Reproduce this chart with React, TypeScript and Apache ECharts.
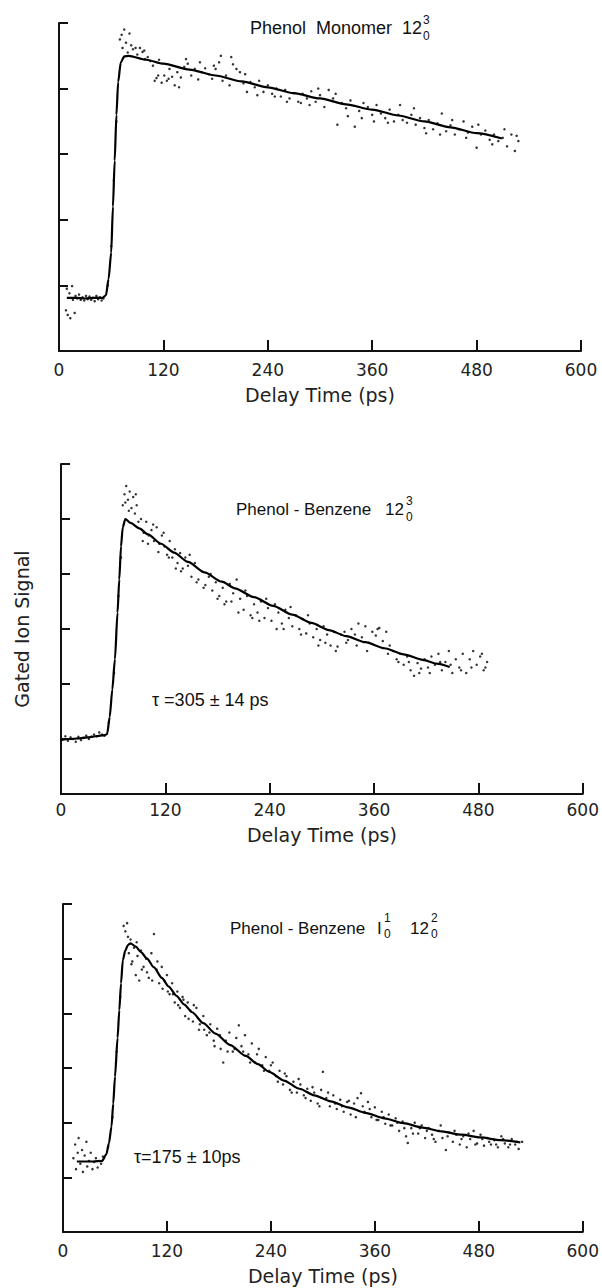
import React, { useEffect, useRef } from "react";
import * as echarts from "echarts";

// ---------- data ----------
const xTicks = [0, 120, 240, 360, 480, 600];
const xAxisName = "Delay Time (ps)";
const yAxisName = "Gated Ion Signal";

// Panel 1: Phenol Monomer 12_0^3 (fit line and measured points)
const fit1: [number, number][] = [
  [9, 0.81], [20, 0.81], [30, 0.8], [40, 0.81], [50, 0.81], [54, 0.85], [57, 1.1], [60, 1.5], [62, 2.2], [64, 2.9],
  [66, 3.6], [68, 4.1], [71, 4.4], [75, 4.49], [80, 4.5], [100, 4.44], [120, 4.38], [150, 4.29], [180, 4.2],
  [210, 4.11], [240, 4.02], [270, 3.93], [300, 3.85], [330, 3.76], [360, 3.68], [390, 3.59], [420, 3.5],
  [450, 3.41], [480, 3.32], [509, 3.24],
];
const pts1: [number, number][] = [
  [8, 0.62], [9, 0.95], [10, 0.55], [12, 0.88], [13, 0.5], [15, 0.99], [16, 0.78], [18, 0.58], [19, 0.84], [21, 0.8],
  [23, 0.86], [25, 0.78], [27, 0.82], [29, 0.77], [31, 0.84], [33, 0.79], [35, 0.83], [37, 0.78], [39, 0.81], [41, 0.76],
  [43, 0.84], [45, 0.79], [47, 0.82], [49, 0.77], [51, 0.8], [56, 1.0], [60, 1.6], [63, 2.6], [66, 3.5],
  [70, 4.75], [72, 4.82], [73, 4.62], [75, 4.9], [77, 4.7], [79, 4.55], [81, 4.84], [83, 4.66], [85, 4.6], [88, 4.62],
  [90, 4.52], [93, 4.62], [96, 4.56], [99, 4.45], [102, 4.48], [105, 4.42], [108, 4.35], [112, 4.16], [115, 4.44],
  [118, 4.09], [121, 4.2], [124, 4.12], [127, 4.3], [130, 4.18], [133, 4.05], [136, 4.25], [140, 4.17], [144, 4.33],
  [148, 4.38], [152, 4.2], [156, 4.3], [160, 4.14], [164, 4.25], [168, 4.31], [172, 4.22], [176, 4.15], [180, 4.3],
  [184, 4.4], [188, 4.12], [192, 4.2], [196, 4.05], [200, 4.37], [204, 4.3], [208, 4.25], [212, 4.08], [216, 3.95],
  [220, 4.1], [225, 4.02], [230, 4.12], [235, 3.95], [240, 4.05], [245, 3.92], [250, 4.0], [255, 3.88], [260, 3.98],
  [265, 3.85], [270, 3.93], [275, 3.8], [280, 3.92], [285, 3.85], [290, 3.96], [295, 3.8], [300, 3.9], [305, 3.72],
  [310, 3.98], [315, 3.85], [320, 3.45], [325, 3.78], [330, 3.7], [335, 3.82], [340, 3.42], [345, 3.66], [350, 3.78],
  [355, 3.72], [360, 3.6], [365, 3.75], [370, 3.62], [375, 3.55], [380, 3.68], [385, 3.5], [390, 3.6], [395, 3.52],
  [400, 3.48], [405, 3.6], [410, 3.45], [415, 3.55], [420, 3.4], [425, 3.52], [430, 3.38], [435, 3.47], [440, 3.62],
  [445, 3.35], [450, 3.44], [455, 3.3], [460, 3.38], [465, 3.5], [470, 3.33], [475, 3.42], [480, 3.1], [485, 3.3],
  [490, 3.36], [495, 3.22], [500, 3.3], [505, 3.2], [510, 3.25], [515, 3.12], [520, 3.3], [524, 3.05], [528, 3.2],
  [98, 4.58], [110, 4.12], [114, 4.2], [126, 4.15], [138, 4.02], [146, 4.45], [162, 4.4], [178, 4.35], [186, 4.5],
  [198, 4.48], [214, 4.22], [228, 3.9], [248, 3.88], [262, 3.8], [278, 3.78], [288, 3.75], [298, 4.0], [318, 3.92],
  [332, 3.58], [348, 3.55], [362, 3.5], [378, 3.48], [392, 3.75], [408, 3.7], [422, 3.32], [438, 3.3], [452, 3.52],
  [468, 3.25], [482, 3.45], [498, 3.15], [512, 3.38], [526, 3.28],
];

// Panel 2: Phenol-Benzene 12_0^3, tau = 305 ± 14 ps
const fit2: [number, number][] = [
  [0, 0.98], [10, 1.0], [20, 1.01], [30, 1.03], [40, 1.05], [50, 1.07], [53, 1.09], [56, 1.4], [59, 1.9], [62, 2.45],
  [65, 3.3], [67, 3.9], [69, 4.5], [71, 4.85], [74, 5.0], [80, 4.93], [90, 4.83], [100, 4.72], [115, 4.55],
  [130, 4.39], [146, 4.22], [165, 4.03], [185, 3.86], [200, 3.74], [222, 3.58], [244, 3.42], [266, 3.26],
  [288, 3.11], [308, 2.98], [328, 2.87], [350, 2.76], [372, 2.65], [394, 2.54], [416, 2.44], [432, 2.37], [447, 2.31],
];
const pts2: [number, number][] = [
  [2, 1.0], [5, 1.05], [8, 0.97], [11, 1.03], [14, 1.0], [17, 0.95], [20, 1.04], [23, 0.98], [26, 1.02], [29, 1.06],
  [32, 1.0], [35, 1.04], [38, 1.08], [41, 1.05], [44, 1.12], [47, 1.08], [50, 1.06], [55, 1.3], [61, 2.2], [66, 3.6],
  [69, 4.3], [71, 5.25], [73, 5.45], [75, 5.6], [77, 5.35], [79, 5.5], [81, 5.2], [83, 5.4], [85, 5.1], [87, 5.25],
  [89, 4.95], [92, 5.0], [95, 4.75], [98, 4.95], [101, 4.7], [104, 4.8], [107, 4.6], [110, 4.85], [113, 4.55],
  [116, 4.7], [119, 4.5], [122, 4.35], [125, 4.6], [128, 4.3], [131, 4.45], [134, 4.2], [137, 4.38], [140, 4.1],
  [143, 4.3], [146, 4.15], [150, 3.95], [154, 4.2], [158, 3.9], [162, 4.05], [166, 3.8], [170, 3.95], [174, 3.7],
  [178, 3.85], [182, 3.6], [186, 3.75], [190, 3.5], [194, 3.82], [198, 3.65], [202, 3.9], [206, 3.55], [210, 3.35],
  [214, 3.6], [218, 3.25], [222, 3.45], [226, 3.3], [230, 3.5], [234, 3.2], [238, 3.38], [242, 3.15], [246, 3.45],
  [250, 3.3], [254, 3.1], [258, 3.35], [262, 3.2], [266, 3.05], [270, 3.25], [274, 3.0], [278, 3.18], [282, 2.92],
  [286, 3.1], [290, 2.85], [294, 3.0], [298, 2.8], [302, 3.05], [306, 2.9], [310, 2.7], [314, 2.95], [318, 2.68],
  [322, 2.9], [326, 2.95], [330, 2.8], [334, 3.0], [338, 2.9], [342, 3.1], [346, 2.85], [350, 3.05], [354, 2.75],
  [358, 2.95], [362, 2.88], [366, 3.02], [370, 2.78], [374, 2.95], [378, 2.7], [382, 2.6], [386, 2.45], [390, 2.55],
  [394, 2.35], [398, 2.5], [402, 2.25], [406, 2.15], [410, 2.38], [414, 2.28], [418, 2.45], [422, 2.3], [426, 2.5],
  [430, 2.35], [434, 2.55], [438, 2.25], [442, 2.4], [446, 2.6], [450, 2.2], [454, 2.45], [458, 2.3], [462, 2.55],
  [466, 2.2], [470, 2.45], [474, 2.6], [478, 2.35], [482, 2.5], [486, 2.25], [490, 2.4],
  [74, 5.3], [78, 5.15], [86, 5.45], [94, 4.6], [100, 4.55], [106, 4.9], [112, 4.4], [118, 4.75], [124, 4.3],
  [132, 4.1], [138, 4.05], [148, 4.35], [156, 3.85], [164, 3.75], [172, 4.0], [180, 3.55], [188, 3.45], [196, 3.5],
  [204, 3.3], [212, 3.7], [220, 3.2], [228, 3.15], [236, 3.55], [248, 3.0], [256, 3.0], [264, 3.4], [276, 2.9],
  [284, 3.25], [296, 2.7], [304, 2.75], [316, 2.6], [328, 2.75], [340, 2.7], [352, 2.6], [364, 3.0], [376, 2.55],
  [388, 2.4], [400, 2.4], [412, 2.2], [424, 2.2], [436, 2.4], [448, 2.35], [460, 2.25], [472, 2.3], [484, 2.55],
  [488, 2.3],
];

// Panel 3: Phenol-Benzene 1_0^1 12_0^2, tau = 175 ± 10 ps
const fit3: [number, number][] = [
  [16, 1.29], [25, 1.29], [35, 1.29], [45, 1.3], [50, 1.42], [53, 1.62], [56, 1.93], [58, 2.35], [60, 2.84],
  [63, 3.55], [65, 4.06], [67, 4.55], [69, 4.97], [72, 5.15], [75, 5.25], [78, 5.28], [84, 5.22], [90, 5.12],
  [97, 5.0], [105, 4.84], [114, 4.65], [122, 4.49], [131, 4.32], [140, 4.16], [149, 4.02], [162, 3.82], [176, 3.63],
  [193, 3.42], [211, 3.22], [225, 3.07], [238, 2.93], [255, 2.77], [273, 2.62], [290, 2.5], [309, 2.39], [329, 2.28],
  [349, 2.18], [371, 2.08], [393, 1.99], [415, 1.91], [437, 1.84], [460, 1.78], [482, 1.73], [505, 1.68], [528, 1.64],
];
const pts3: [number, number][] = [
  [12, 1.35], [14, 1.6], [15, 1.15], [17, 1.45], [18, 1.72], [20, 1.25], [22, 1.5], [23, 1.1], [25, 1.4], [27, 1.65],
  [28, 1.2], [30, 1.3], [32, 1.45], [34, 1.15], [36, 1.28], [38, 1.35], [40, 1.18], [42, 1.3], [44, 1.25], [46, 1.38],
  [52, 1.55], [57, 2.1], [62, 3.3], [66, 4.3], [70, 5.6], [72, 5.5], [74, 5.65], [76, 5.1], [78, 5.35], [80, 4.95],
  [82, 5.2], [84, 4.7], [86, 5.05], [88, 4.6], [90, 5.15], [93, 4.85], [96, 5.0], [99, 4.65], [102, 5.1], [105, 5.45],
  [108, 4.8], [111, 4.55], [114, 4.85], [117, 4.6], [120, 4.7], [123, 4.35], [126, 4.55], [129, 4.2], [132, 4.4],
  [135, 4.1], [138, 4.3], [141, 3.95], [144, 4.2], [147, 4.05], [150, 3.85], [154, 4.1], [158, 3.8], [162, 3.95],
  [166, 3.6], [170, 3.8], [174, 3.5], [178, 3.72], [182, 3.35], [185, 3.1], [188, 3.5], [192, 3.65], [196, 3.3],
  [200, 3.55], [203, 3.78], [206, 3.4], [210, 3.6], [214, 3.25], [218, 3.45], [222, 3.1], [226, 3.35], [230, 3.05],
  [234, 3.2], [238, 2.95], [242, 3.1], [246, 2.85], [250, 2.95], [254, 2.7], [258, 2.85], [262, 2.6], [266, 2.75],
  [270, 2.55], [274, 2.7], [278, 2.5], [282, 2.62], [286, 2.4], [290, 2.55], [294, 2.35], [298, 2.6], [300, 2.93],
  [304, 2.45], [308, 2.3], [312, 2.5], [316, 2.25], [320, 2.42], [324, 2.2], [328, 2.38], [332, 2.15], [336, 2.35],
  [340, 2.45], [344, 2.54], [348, 2.2], [352, 2.38], [356, 2.1], [360, 2.28], [364, 2.05], [368, 2.2], [372, 1.98],
  [376, 2.15], [380, 1.95], [384, 2.08], [388, 1.85], [392, 2.02], [396, 1.75], [398, 1.63], [402, 1.9], [406, 2.0],
  [410, 1.8], [414, 1.95], [418, 1.72], [422, 1.9], [426, 1.78], [430, 1.65], [434, 1.85], [438, 1.72], [442, 1.5],
  [446, 1.82], [450, 1.65], [454, 1.78], [458, 1.6], [462, 1.75], [466, 1.55], [470, 1.7], [474, 1.85], [478, 1.62],
  [482, 1.78], [486, 1.58], [490, 1.72], [494, 1.6], [498, 1.68], [502, 1.55], [506, 1.75], [510, 1.62], [514, 1.55],
  [518, 1.7], [522, 1.6], [526, 1.52], [530, 1.65],
  [75, 5.4], [79, 4.9], [85, 5.3], [91, 4.8], [97, 4.75], [103, 4.6], [109, 4.95], [115, 4.45], [121, 4.4],
  [127, 4.35], [133, 4.15], [139, 4.25], [145, 3.9], [151, 4.15], [157, 3.7], [163, 3.7], [169, 3.65], [175, 3.4],
  [181, 3.6], [190, 3.3], [198, 3.35], [208, 3.3], [216, 3.1], [224, 3.25], [232, 2.95], [240, 3.05], [248, 2.75],
  [256, 2.9], [264, 2.55], [272, 2.8], [280, 2.45], [288, 2.65], [296, 2.3], [306, 2.55], [314, 2.35], [322, 2.3],
  [330, 2.4], [338, 2.1], [346, 2.3], [354, 2.25], [362, 2.05], [370, 2.1], [378, 1.95], [386, 2.0], [394, 1.9],
  [404, 1.8], [412, 1.9], [420, 1.85], [428, 1.7], [436, 1.95], [444, 1.75], [452, 1.85], [460, 1.7], [468, 1.8],
  [476, 1.6], [484, 1.7], [492, 1.65], [500, 1.6], [508, 1.7], [516, 1.6], [524, 1.65],
];

const yMaxes = [5, 6, 6];
const titles = ["Phenol  Monomer", "Phenol - Benzene", "Phenol - Benzene"];
const tauLabels = ["", "τ =305 ± 14 ps", "τ=175 ± 10ps"];

// ---------- layout ----------
const W = 602;
const H = 1288;
const grids = [
  { left: 59, top: 23, width: 522, height: 328 },
  { left: 61, top: 464, width: 522, height: 330 },
  { left: 63, top: 904, width: 520, height: 328 },
];
const labelMargins = [10, 7, 10];
const nameGaps = [34, 31, 34];

const INK = "#111";
const TITLE_FONT = "'Liberation Sans', Arial, sans-serif";
const AXIS_FONT = "'DejaVu Sans', sans-serif";

function txt(text: string, x: number, y: number, size: number, align = "left") {
  return {
    type: "text",
    x,
    y,
    silent: true,
    style: {
      text,
      font: `${size}px ${TITLE_FONT}`,
      fontSize: size,
      fontFamily: TITLE_FONT,
      fill: INK,
      align,
      verticalAlign: "middle",
    },
  };
}

export default function App() {
  const ref = useRef<HTMLDivElement>(null);

  useEffect(() => {
    document.body.style.margin = "0";
    if (!ref.current) return;
    const chart = echarts.init(ref.current, null, { renderer: "svg" });

    const fits = [fit1, fit2, fit3];
    const pts = [pts1, pts2, pts3];

    const xAxis = grids.map((_, i) => ({
      type: "value",
      gridIndex: i,
      min: 0,
      max: 600,
      interval: 120,
      name: xAxisName,
      nameLocation: "middle",
      nameGap: nameGaps[i],
      nameTextStyle: { fontSize: 19, fontFamily: AXIS_FONT, color: "#222" },
      axisLine: { show: true, onZero: false, lineStyle: { color: INK, width: 2 } },
      axisTick: { show: true, inside: true, length: 11, lineStyle: { color: INK, width: 2 } },
      axisLabel: {
        show: true,
        margin: labelMargins[i],
        fontSize: 17,
        fontFamily: AXIS_FONT,
        color: "#222",
        formatter: (v: number) => (xTicks.includes(v) ? String(v) : ""),
      },
      splitLine: { show: false },
    }));

    const yAxis = grids.map((_, i) => ({
      type: "value",
      gridIndex: i,
      min: 0,
      max: yMaxes[i],
      interval: 1,
      name: i === 1 ? yAxisName : "",
      nameLocation: "middle",
      nameRotate: 90,
      nameGap: 30,
      nameTextStyle: { fontSize: 19, fontFamily: AXIS_FONT, color: "#222" },
      axisLine: { show: true, lineStyle: { color: INK, width: 2 } },
      axisTick: { show: true, inside: true, length: 9, lineStyle: { color: INK, width: 2 } },
      axisLabel: { show: false },
      splitLine: { show: false },
    }));

    const series: any[] = [];
    grids.forEach((_, i) => {
      series.push({
        type: "scatter",
        xAxisIndex: i,
        yAxisIndex: i,
        data: pts[i],
        symbol: "circle",
        symbolSize: 2.5,
        itemStyle: { color: "#000" },
        silent: true,
      });
      series.push({
        type: "line",
        xAxisIndex: i,
        yAxisIndex: i,
        data: fits[i],
        showSymbol: false,
        smooth: 0.25,
        smoothMonotone: "x",
        lineStyle: { color: "#000", width: 2.2 },
        silent: true,
      });
    });

    const graphic: any[] = [
      // Panel 1 title
      txt(titles[0], 250, 28, 18),
      txt("12", 402, 28, 18),
      txt("3", 423, 20, 12),
      txt("0", 423, 36, 12),
      // Panel 2 title
      txt(titles[1], 236, 509, 17),
      txt("12", 385, 509, 17),
      txt("3", 406, 501, 12),
      txt("0", 406, 517, 12),
      txt(tauLabels[1], 152, 700, 18),
      // Panel 3 title
      txt(titles[2], 230, 928, 17),
      txt("I", 377, 928, 17),
      txt("1", 384, 918, 12),
      txt("0", 384, 934, 12),
      txt("12", 410, 928, 17),
      txt("2", 431, 918, 12),
      txt("0", 431, 934, 12),
      txt(tauLabels[2], 134, 1157, 18),
    ];

    chart.setOption({
      animation: false,
      backgroundColor: "#fff",
      grid: grids.map((g) => ({ ...g, containLabel: false })),
      xAxis,
      yAxis,
      series,
      graphic,
    });

    return () => chart.dispose();
  }, []);

  return <div ref={ref} style={{ width: W, height: H }} />;
}
